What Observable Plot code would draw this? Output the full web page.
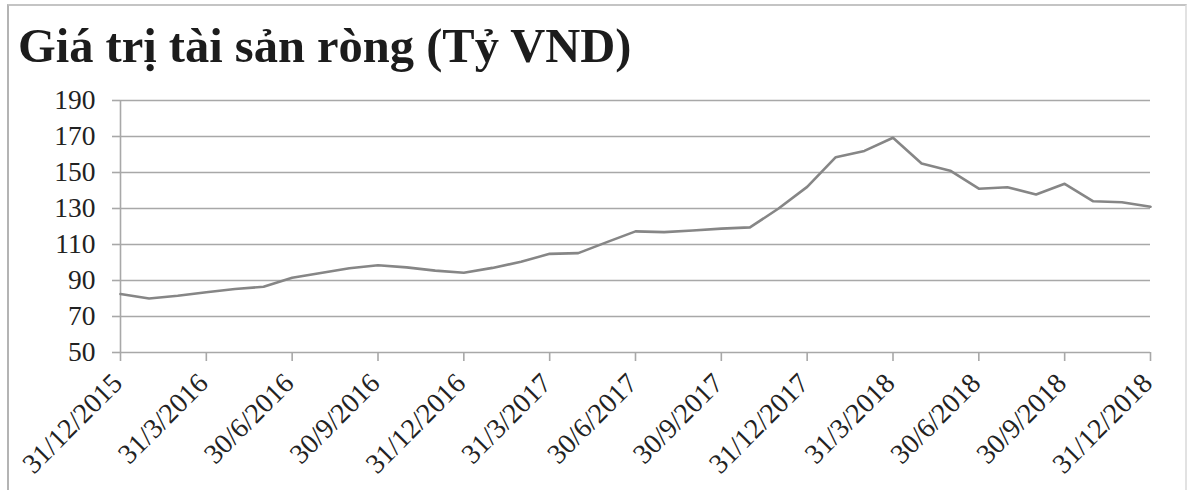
<!DOCTYPE html>
<html>
<head>
<meta charset="utf-8">
<script src="https://cdn.jsdelivr.net/npm/d3@7"></script>
<script src="https://cdn.jsdelivr.net/npm/@observablehq/plot@0.6"></script>
<style>
  html, body { margin: 0; padding: 0; background: #fff; }
  #wrap { position: relative; width: 1188px; height: 490px; overflow: hidden; background: #fff; }
  #frame { position: absolute; left: 7px; top: 4px; width: 1176px; height: 600px;
           border-left: 2px solid #b4b4b4; border-top: 2px solid #c4c4c4; border-right: 2px solid #e2e2e2; }
  #title { position: absolute; left: 18px; top: 18px; line-height: 48px; white-space: nowrap;
           font: bold 48.5px "Liberation Serif", "Times New Roman", serif; color: #1c1c1c; }
  #chart { position: absolute; left: 0; top: 70px; }
</style>
</head>
<body>
<div id="wrap">
  <div id="frame"></div>
  <div id="title">Giá trị tài sản ròng (Tỷ VND)</div>
  <div id="chart"></div>
</div>
<script>
const dates = [
  "31/12/2015","31/1/2016","29/2/2016","31/3/2016","30/4/2016","31/5/2016","30/6/2016",
  "31/7/2016","31/8/2016","30/9/2016","31/10/2016","30/11/2016","31/12/2016",
  "31/1/2017","28/2/2017","31/3/2017","30/4/2017","31/5/2017","30/6/2017",
  "31/7/2017","31/8/2017","30/9/2017","31/10/2017","30/11/2017","31/12/2017",
  "31/1/2018","28/2/2018","31/3/2018","30/4/2018","31/5/2018","30/6/2018",
  "31/7/2018","31/8/2018","30/9/2018","31/10/2018","30/11/2018","31/12/2018"
];
const navValues = [
  82.5, 80.0, 81.5, 83.5, 85.3, 86.5, 91.5,
  94.2, 96.8, 98.5, 97.3, 95.5, 94.3,
  97.0, 100.4, 104.8, 105.2, 111.3, 117.3,
  116.9, 117.8, 118.8, 119.5, 130.0, 142.0,
  158.5, 162.0, 169.3, 155.0, 151.0, 141.0,
  141.8, 137.8, 143.7, 134.0, 133.5, 131.0
];
const xTickLabels = [
  "31/12/2015","31/3/2016","30/6/2016","30/9/2016","31/12/2016","31/3/2017",
  "30/6/2017","30/9/2017","31/12/2017","31/3/2018","30/6/2018","30/9/2018","31/12/2018"
];
const yTicks = [50, 70, 90, 110, 130, 150, 170, 190];

const data = dates.map((d, i) => ({date: d, value: navValues[i]}));

const chart = Plot.plot({
  width: 1188,
  height: 420,
  marginLeft: 120,
  marginRight: 38,
  marginTop: 30,
  marginBottom: 138,
  style: {
    fontFamily: "'Liberation Serif', 'Times New Roman', serif",
    fontSize: "27.5px",
    color: "#222",
    background: "transparent",
    overflow: "visible"
  },
  x: {type: "point", domain: dates, padding: 0, round: false},
  y: {domain: [50, 190]},
  marks: [
    Plot.gridY(yTicks, {stroke: "#a8a8a8", strokeOpacity: 1, strokeWidth: 1.6}),
    Plot.ruleX([dates[0]], {stroke: "#a8a8a8", strokeWidth: 1.6}),
    Plot.axisY(yTicks, {tickSize: 8, tickPadding: 17, stroke: "#a8a8a8", strokeWidth: 1.6, fill: "#222", label: null}),
    Plot.axisX(xTickLabels, {tickSize: 9, stroke: "#a8a8a8", strokeWidth: 1.6, tickFormat: () => "", label: null}),
    Plot.axisX(xTickLabels, {tickSize: 0, tickPadding: 26, tickRotate: -45, fill: "#222", label: null, fontSize: 28, dx: -3}),
    Plot.lineY(data, {x: "date", y: "value", stroke: "#868686", strokeWidth: 2.6})
  ]
});
document.getElementById("chart").appendChild(chart);
</script>
</body>
</html>
